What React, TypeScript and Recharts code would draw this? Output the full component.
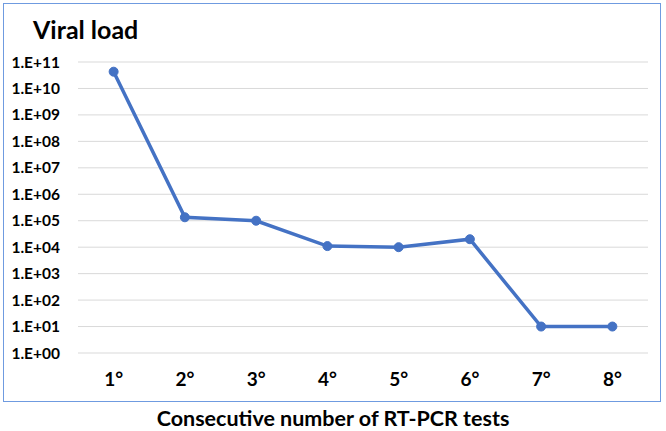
import { LineChart, Line, XAxis, YAxis, CartesianGrid } from 'recharts';

const tests = ['1°', '2°', '3°', '4°', '5°', '6°', '7°', '8°'];
const viralLoad = [4.3e10, 1.35e5, 1.0e5, 1.1e4, 1.0e4, 2.0e4, 10, 10];
const yTicks = [1, 1e1, 1e2, 1e3, 1e4, 1e5, 1e6, 1e7, 1e8, 1e9, 1e10, 1e11];

const data = tests.map((t, i) => ({ test: t, load: viralLoad[i] }));

const font = 'Lato, "Liberation Sans", sans-serif';

const fmtExp = (v: number) => {
  const e = Math.round(Math.log10(v));
  return `1.E+${String(e).padStart(2, '0')}`;
};

export default function App() {
  return (
    <div style={{ position: 'absolute', left: 0, top: 0, width: 666, height: 431, background: '#fff', fontFamily: font }}>
      {/* frame around the plot */}
      <div style={{ position: 'absolute', left: 3, top: 3, width: 656, height: 397, border: '1.5px solid #6f9be0' }} />
      <div style={{ position: 'absolute', left: 33, top: 14, fontSize: 25, fontWeight: 700, color: '#000' }}>Viral load</div>
      <LineChart width={666} height={431} data={data} margin={{ top: 62, right: 18, bottom: 0, left: 0 }}>
        <CartesianGrid vertical={false} stroke="#d9d9d9" />
        <XAxis
          dataKey="test"
          scale="band"
          axisLine={false}
          tickLine={false}
          tickMargin={14}
          height={78}
          tick={{ fontSize: 19, fontWeight: 700, fill: '#000', fontFamily: font }}
          label={{ value: 'Consecutive number of RT-PCR tests', position: 'insideBottom', offset: 5, dx: -30, style: { fontSize: 21.5, fontWeight: 700, fill: '#000', fontFamily: font } }}
        />
        <YAxis
          scale="log"
          domain={[1, 1e11]}
          ticks={yTicks}
          interval={0}
          tickFormatter={fmtExp}
          axisLine={false}
          tickLine={false}
          tickMargin={12}
          width={78}
          tick={{ fontSize: 15.5, fontWeight: 700, fill: '#000', fontFamily: font }}
          allowDataOverflow
        />
        <Line
          dataKey="load"
          stroke="#4472c4"
          strokeWidth={3.5}
          dot={{ r: 4.5, fill: '#4472c4', stroke: '#4472c4', strokeWidth: 1 }}
          isAnimationActive={false}
        />
      </LineChart>
    </div>
  );
}
